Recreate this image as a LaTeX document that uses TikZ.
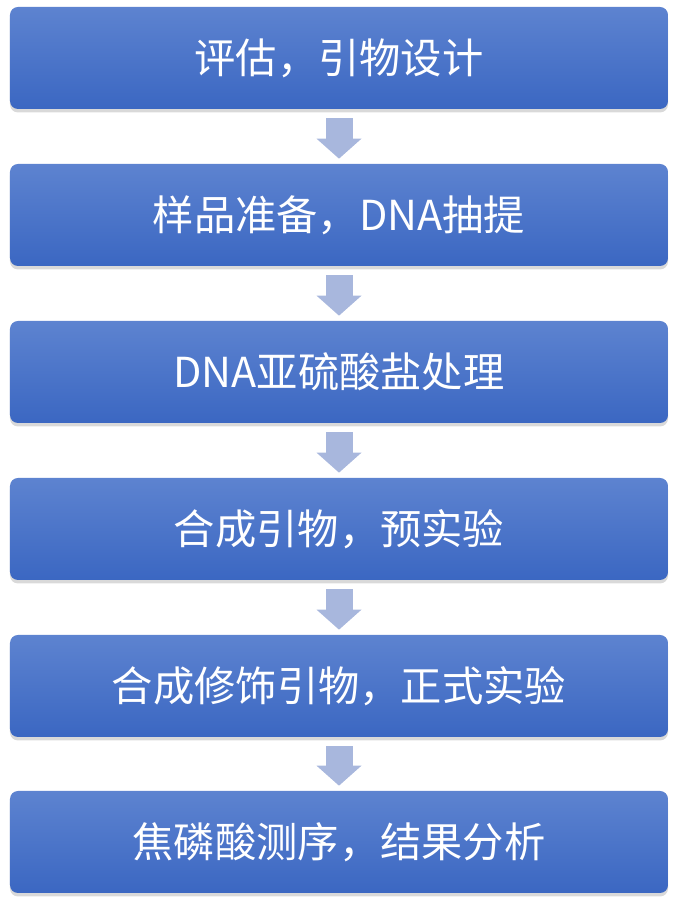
\documentclass[tikz,border=0pt]{standalone}
\usepackage{fontspec}
\newfontfamily\cjk{Noto Sans CJK SC}
\usepackage{xcolor}
\usepackage{tikz}
\usetikzlibrary{shadows}
\usetikzlibrary{arrows.meta}
\tikzset{>=latex}
\definecolor{boxtop}{HTML}{5D83D0}
\definecolor{boxbot}{HTML}{3B67C2}
\definecolor{arrowc}{HTML}{A8B7DD}
\tikzset{
  stepbox/.style={rounded corners=0.16cm, minimum width=13.16cm, minimum height=2.04cm,
    top color=boxtop, bottom color=boxbot, text=white,
    font=\cjk\fontsize{23.5}{28}\selectfont,
    drop shadow={shadow xshift=0cm, shadow yshift=-0.07cm, opacity=0.3}},
  flow/.style={color=arrowc, line width=0.54cm,
    -{Triangle[width=0.9cm,length=0.4cm,line width=0pt]},
    shorten <=0.18cm, shorten >=0.1cm}
}

\begin{document}
\begin{tikzpicture}
    \useasboundingbox (0,0) rectangle (13.58,18.14);

    \node[stepbox] at (6.78,16.98) (A) {评估，引物设计};
    \node[stepbox] at (6.78,13.84) (B) {样品准备，DNA抽提};
    \node[stepbox] at (6.78,10.70) (C) {DNA亚硫酸盐处理};
    \node[stepbox] at (6.78,7.56) (D) {合成引物，预实验};
    \node[stepbox] at (6.78,4.42) (E) {合成修饰引物，正式实验};
    \node[stepbox] at (6.78,1.30) (F) {焦磷酸测序，结果分析};

    % arrows between the steps
    \draw[flow] (A.south) -- (B.north);
    \draw[flow] (B.south) -- (C.north);
    \draw[flow] (C.south) -- (D.north);
    \draw[flow] (D.south) -- (E.north);
    \draw[flow] (E.south) -- (F.north);

\end{tikzpicture}
\end{document}
